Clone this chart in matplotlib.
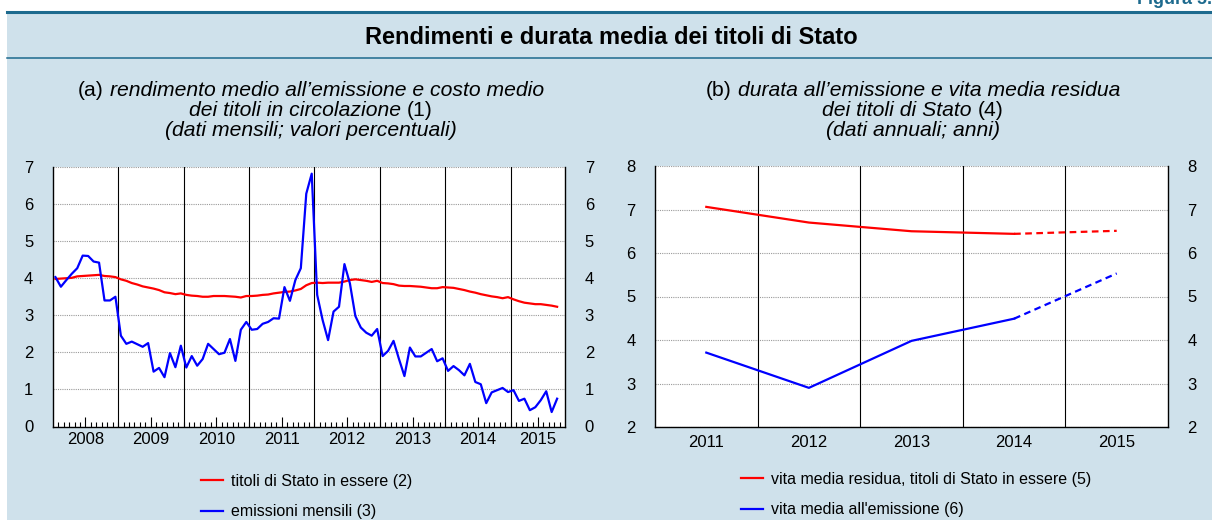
import matplotlib
matplotlib.use("Agg")
import matplotlib.pyplot as plt
import matplotlib.patches as patches
import matplotlib.lines as mlines
import numpy as np

plt.rcParams['font.family'] = ['Liberation Sans', 'DejaVu Sans']

# dati mensili gen 2008 - set 2015
titoli_essere = [
    3.98, 3.99, 4.00, 4.01, 4.05, 4.06, 4.07, 4.08, 4.09, 4.06, 4.05, 4.03,
    3.97, 3.93, 3.87, 3.83, 3.78, 3.75, 3.72, 3.68, 3.62, 3.60, 3.57, 3.59,
    3.55, 3.53, 3.52, 3.50, 3.50, 3.52, 3.52, 3.52, 3.51, 3.50, 3.48, 3.52,
    3.52, 3.53, 3.55, 3.56, 3.59, 3.61, 3.63, 3.64, 3.67, 3.71, 3.81, 3.87,
    3.88, 3.87, 3.88, 3.88, 3.88, 3.91, 3.95, 3.97, 3.95, 3.93, 3.90, 3.93,
    3.87, 3.86, 3.84, 3.80, 3.79, 3.79, 3.78, 3.77, 3.75, 3.73, 3.73, 3.76,
    3.75, 3.74, 3.71, 3.68, 3.64, 3.61, 3.57, 3.54, 3.51, 3.49, 3.46, 3.49,
    3.43, 3.38, 3.34, 3.32, 3.30, 3.30, 3.28, 3.26, 3.23,
]
emissioni_mensili = [
    4.03, 3.77, 3.95, 4.12, 4.27, 4.61, 4.60, 4.45, 4.42, 3.40, 3.40, 3.50,
    2.45, 2.23, 2.29, 2.22, 2.15, 2.25, 1.48, 1.58, 1.33, 1.98, 1.60, 2.18,
    1.59, 1.90, 1.64, 1.82, 2.23, 2.09, 1.95, 1.99, 2.36, 1.77, 2.61, 2.82,
    2.61, 2.63, 2.77, 2.82, 2.92, 2.91, 3.76, 3.39, 3.95, 4.27, 6.28, 6.82,
    3.55, 2.87, 2.33, 3.10, 3.23, 4.38, 3.86, 2.98, 2.67, 2.53, 2.45, 2.63,
    1.90, 2.04, 2.31, 1.82, 1.36, 2.13, 1.89, 1.89, 1.99, 2.09, 1.76, 1.84,
    1.50, 1.63, 1.52, 1.38, 1.69, 1.20, 1.14, 0.63, 0.92, 0.98, 1.04, 0.93,
    0.98, 0.69, 0.75, 0.44, 0.52, 0.71, 0.95, 0.39, 0.75,
]
anni_mensili = ["2008", "2009", "2010", "2011", "2012", "2013", "2014", "2015"]

# dati annuali
anni = ["2011", "2012", "2013", "2014", "2015"]
vita_residua = [7.06, 6.70, 6.50, 6.44, 6.51]
vita_emissione = [3.71, 2.90, 3.98, 4.49, 5.53]

BG = '#cfe1eb'
TEAL = '#1d6a8e'
RED = '#ff0000'
BLUE = '#0000ff'
W, H = 1212, 520

fig = plt.figure(figsize=(W / 100, H / 100), dpi=100)
fig.patch.set_facecolor('white')

# sfondo e cornice
fig.add_artist(patches.Rectangle((7 / W, 0), 1 - 7 / W, 1 - 13 / H, transform=fig.transFigure,
                                 facecolor=BG, edgecolor='none', zorder=-10))
fig.add_artist(mlines.Line2D([7 / W, 1], [1 - 12 / H] * 2, transform=fig.transFigure, color=TEAL, lw=2.2))
fig.add_artist(mlines.Line2D([7 / W, 1], [1 - 58 / H] * 2, transform=fig.transFigure, color=TEAL, lw=1.1))
fig.text(1137 / W, 1 - 4 / H, "Figura 5.4", color=TEAL, fontsize=13, fontweight='bold',
         ha='left', va='baseline')
fig.text(611 / W, 1 - 37 / H, "Rendimenti e durata media dei titoli di Stato", fontsize=17,
         fontweight='bold', ha='center', va='center')

renderer = fig.canvas.get_renderer()


def mixed_line(xc, yc, parts, size=15.2):
    """riga centrata con pezzi in corsivo / tondo"""
    sp = fig.text(0, 0, "x x", size=size)
    sp2 = fig.text(0, 0, "xx", size=size)
    space = sp.get_window_extent(renderer).width - sp2.get_window_extent(renderer).width
    sp.remove()
    sp2.remove()
    texts = [fig.text(0, 1 - yc / H, s, style=st, size=size, va='center', ha='left') for s, st in parts]
    widths = [t.get_window_extent(renderer).width for t in texts]
    total = sum(widths) + space * (len(parts) - 1)
    x = xc - total / 2
    for t, w in zip(texts, widths):
        t.set_x(x / W)
        x += w + space


ax1 = fig.add_axes([52.7 / W, 1 - 426.5 / H, 512.6 / W, 259.5 / H])
ax2 = fig.add_axes([655 / W, 1 - 427 / H, 513 / W, 261 / H])

for ax in (ax1, ax2):
    ax.set_facecolor('white')
    ax.spines['top'].set_visible(False)
    for s in ('left', 'right', 'bottom'):
        ax.spines[s].set_linewidth(1.0)
        ax.spines[s].set_color('black')
    ax.yaxis.grid(True, linestyle=(0, (1, 1)), color='#9a9a9a', lw=0.8)
    ax.set_axisbelow(True)
    ax.tick_params(axis='y', which='both', left=False, right=False, labelleft=True, labelright=True,
                   labelsize=12, pad=10.5)

# (a) dati mensili
n_mesi = len(emissioni_mensili)
xm = np.arange(n_mesi) + 0.5
ax1.set_xlim(0, 94)
ax1.set_ylim(0, 7)
ax1.set_yticks(range(0, 8))
for k in range(1, len(anni_mensili)):
    ax1.axvline(12 * k, color='black', lw=0.8, zorder=1)
ax1.plot(xm, titoli_essere, color=RED, lw=1.6, zorder=3)
ax1.plot(xm, emissioni_mensili, color=BLUE, lw=1.6, zorder=4)
ax1.set_xticks([6 + 12 * k for k in range(len(anni_mensili) - 1)] + [89])
ax1.set_xticklabels(anni_mensili)
ax1.set_xticks(range(1, 94), minor=True)
ax1.tick_params(axis='x', which='major', direction='in', length=7, width=0.8, labelsize=12, pad=4)
ax1.tick_params(axis='x', which='minor', direction='in', length=3.5, width=0.8)

# (b) dati annuali
xa = np.arange(len(anni))
ax2.set_xlim(-0.5, len(anni) - 0.5)
ax2.set_ylim(2, 8)
ax2.set_yticks(range(2, 9))
for k in range(1, len(anni)):
    ax2.axvline(k - 0.5, color='black', lw=0.8, zorder=1)
ax2.plot(xa[:4], vita_residua[:4], color=RED, lw=1.6, zorder=3)
ax2.plot(xa[3:], vita_residua[3:], color=RED, lw=1.6, dashes=(3, 2), zorder=3)
ax2.plot(xa[:4], vita_emissione[:4], color=BLUE, lw=1.6, zorder=3)
ax2.plot(xa[3:], vita_emissione[3:], color=BLUE, lw=1.6, dashes=(3, 2), zorder=3)
ax2.set_xticks(xa)
ax2.set_xticklabels(anni)
ax2.tick_params(axis='x', length=0, labelsize=12, pad=6)

# sottotitoli
mixed_line(311, 90, [("(a)", 'normal'), ("rendimento medio all\u2019emissione e costo medio", 'italic')])
mixed_line(311, 110, [("dei titoli in circolazione", 'italic'), ("(1)", 'normal')])
mixed_line(311, 130, [("(dati mensili; valori percentuali)", 'italic')])
mixed_line(913, 90, [("(b)", 'normal'), ("durata all\u2019emissione e vita media residua", 'italic')])
mixed_line(913, 110, [("dei titoli di Stato", 'italic'), ("(4)", 'normal')])
mixed_line(913, 130, [("(dati annuali; anni)", 'italic')])

# legende
h_red = mlines.Line2D([], [], color=RED, lw=1.6)
h_blue = mlines.Line2D([], [], color=BLUE, lw=1.6)
leg_kw = dict(frameon=False, fontsize=11.5, handlelength=1.4, handletextpad=0.45, labelspacing=0.95,
              borderpad=0, borderaxespad=0, loc='upper left')
fig.legend([h_red, h_blue], ["titoli di Stato in essere (2)", "emissioni mensili (3)"],
           bbox_to_anchor=(201 / W, 1 - 474 / H), **leg_kw)
fig.legend([h_red, h_blue], ["vita media residua, titoli di Stato in essere (5)", "vita media all'emissione (6)"],
           bbox_to_anchor=(741 / W, 1 - 472 / H), **leg_kw)

fig.savefig("out.png", dpi=100, facecolor=fig.get_facecolor())
